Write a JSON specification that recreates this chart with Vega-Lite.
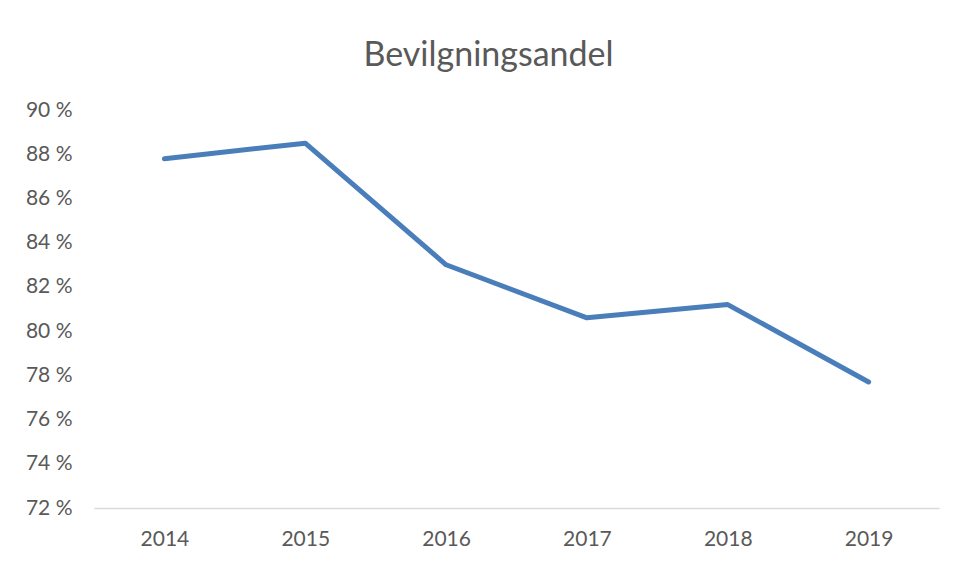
{
  "$schema": "https://vega.github.io/schema/vega-lite/v6.json",
  "autosize": {"type": "none"},
  "width": 845,
  "height": 398,
  "padding": {"left": 94, "top": 110, "right": 20, "bottom": 55},
  "background": "white",
  "config": {"view": {"stroke": null}, "font": "Lato"},
  "title": {
    "text": "Bevilgningsandel",
    "fontSize": 34,
    "fontWeight": "normal",
    "color": "#595959",
    "font": "Lato",
    "anchor": "middle",
    "dx": -28,
    "offset": 26
  },
  "data": {
    "values": [
      {"year": "2014", "share": 87.8},
      {"year": "2015", "share": 88.5},
      {"year": "2016", "share": 83.0},
      {"year": "2017", "share": 80.6},
      {"year": "2018", "share": 81.2},
      {"year": "2019", "share": 77.7}
    ]
  },
  "mark": {"type": "line", "color": "#4a7ebb", "strokeWidth": 5, "strokeCap": "round", "strokeJoin": "round"},
  "encoding": {
    "x": {
      "field": "year", "type": "ordinal",
      "scale": {"type": "point", "padding": 0.5},
      "axis": {
        "title": null, "labelAngle": 0, "ticks": false,
        "domainColor": "#d9d9d9", "domainWidth": 1.5,
        "labelColor": "#595959", "labelFontSize": 21, "labelPadding": 20, "grid": false
      }
    },
    "y": {
      "field": "share", "type": "quantitative",
      "scale": {"domain": [72, 90], "nice": false, "zero": false},
      "axis": {
        "title": null, "values": [72, 74, 76, 78, 80, 82, 84, 86, 88, 90],
        "labelExpr": "datum.value + ' %'",
        "domain": false, "ticks": false, "grid": false,
        "labelColor": "#595959", "labelFontSize": 21, "labelPadding": 22
      }
    }
  }
}
